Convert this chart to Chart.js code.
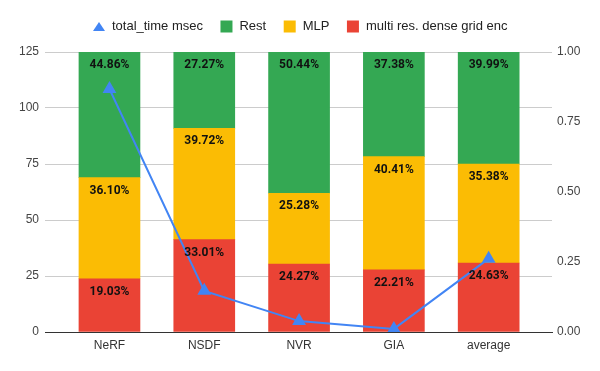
<!DOCTYPE html>
<html>
<head>
<meta charset="utf-8">
<script src="https://cdn.jsdelivr.net/npm/chart.js@4/dist/chart.umd.min.js"></script>
<style>
    html, body { margin: 0; padding: 0; background: #ffffff; }
    #wrap { width: 600px; height: 371px; }
</style>
</head>
<body>
<div id="wrap"><canvas id="chart1"></canvas></div>
<script>
// DATA
var categories = ["NeRF", "NSDF", "NVR", "GIA", "average"];
var gridEnc = [23.79, 41.26, 30.34, 27.76, 30.79];
var mlp = [45.13, 49.65, 31.60, 50.51, 44.23];
var rest = [56.08, 34.09, 63.05, 46.73, 49.99];
var totalTime = [0.868, 0.147, 0.039, 0.011, 0.262];
var leftTicks = [0, 25, 50, 75, 100, 125];
var rightTicks = [0, 0.25, 0.5, 0.75, 1];
var legendOrder = ["total_time msec", "Rest", "MLP", "multi res. dense grid enc"];

function toPoints(values) {
    return values.map(function (v, i) { return { x: i, y: v }; });
}

// small triangle for the legend entry of the line
var legendTriangle = document.createElement('canvas');
legendTriangle.width = 12;
legendTriangle.height = 9;
(function () {
    var c = legendTriangle.getContext('2d');
    c.fillStyle = '#4285f4';
    c.beginPath();
    c.moveTo(6, 0);
    c.lineTo(12, 9);
    c.lineTo(0, 9);
    c.closePath();
    c.fill();
})();

// PERCENT LABELS ON EACH SEGMENT
var segmentLabels = {
    id: 'segmentLabels',
    beforeLayout: function (chart) {
        // leave a little more room under the legend
        var lg = chart.legend;
        if (lg && !lg._padded) {
            var origFit = lg.fit;
            lg.fit = function () {
                origFit.call(this);
                this.height += 9;
            };
            lg._padded = true;
        }
    },
    afterDatasetsDraw: function (chart) {
        var ctx = chart.ctx;
        var sets = chart.data.datasets;
        ctx.save();
        ctx.font = 'bold 12px Roboto';
        ctx.fillStyle = '#111111';
        ctx.textAlign = 'center';
        ctx.textBaseline = 'middle';
        sets.forEach(function (ds, di) {
            if (ds.type !== 'bar') return;
            var meta = chart.getDatasetMeta(di);
            meta.data.forEach(function (bar, i) {
                var sum = 0;
                sets.forEach(function (d) { if (d.type === 'bar') sum += d.data[i].y; });
                var pct = (ds.data[i].y / sum * 100).toFixed(2) + '%';
                ctx.fillText(pct, bar.x, bar.y + 13);
            });
        });
        ctx.restore();
    }
};

var ctxChart1 = document.getElementById('chart1').getContext('2d');
var chart1 = new Chart(ctxChart1, {
    plugins: [segmentLabels],
    data: {
        datasets: [{
            type: 'line',
            label: 'total_time msec',
            data: toPoints(totalTime),
            yAxisID: 'y1',
            borderColor: '#4285f4',
            backgroundColor: '#4285f4',
            borderWidth: 2,
            pointStyle: 'triangle',
            pointRadius: 6,
            tension: 0
        }, {
            type: 'bar',
            label: 'multi res. dense grid enc',
            data: toPoints(gridEnc),
            backgroundColor: '#ea4335',
            pointStyle: 'rect',
            barThickness: 61
        }, {
            type: 'bar',
            label: 'MLP',
            data: toPoints(mlp),
            backgroundColor: '#fbbc04',
            pointStyle: 'rect',
            barThickness: 61
        }, {
            type: 'bar',
            label: 'Rest',
            data: toPoints(rest),
            backgroundColor: '#34a853',
            pointStyle: 'rect',
            barThickness: 61
        }]
    }, options: {
        responsive: true,
        maintainAspectRatio: false,
        animation: false,
        layout: { padding: { top: 3, bottom: 0, left: 0, right: 0 } },
        plugins: {
            tooltip: { enabled: false },
            title: { display: false },
            legend: {
                position: 'top',
                labels: {
                    usePointStyle: true,
                    boxHeight: 12,
                    padding: 17,
                    color: '#222222',
                    font: { family: 'Liberation Sans', size: 13 },
                    generateLabels: function (chart) {
                        var items = Chart.defaults.plugins.legend.labels.generateLabels(chart);
                        items.forEach(function (it) {
                            if (it.text === 'total_time msec') it.pointStyle = legendTriangle;
                        });
                        return items;
                    },
                    sort: function (a, b) {
                        return legendOrder.indexOf(a.text) - legendOrder.indexOf(b.text);
                    }
                }
            }
        }, scales: {
            x: {
                type: 'linear',
                stacked: true,
                offset: false,
                min: -0.68,
                max: 4.668,
                afterBuildTicks: function (scale) {
                    scale.ticks = categories.map(function (c, i) { return { value: i }; });
                },
                afterFit: function (scale) { scale.height = 39; },
                grid: { display: false, drawTicks: false },
                border: { display: true, color: '#333333', width: 1 },
                ticks: {
                    padding: 6,
                    color: '#333333',
                    font: { family: 'Liberation Sans', size: 12 },
                    callback: function (v) { return categories[v]; }
                }
            },
            y: {
                stacked: true,
                position: 'left',
                min: 0,
                max: 125,
                afterBuildTicks: function (scale) {
                    scale.ticks = leftTicks.map(function (v) { return { value: v }; });
                },
                afterFit: function (scale) { scale.width = 45; },
                grid: { color: '#cccccc', drawTicks: false },
                border: { display: false },
                ticks: {
                    padding: 6,
                    color: '#444444',
                    font: { family: 'Liberation Sans', size: 12 }
                }
            },
            y1: {
                position: 'right',
                stacked: false,
                min: 0,
                max: 1,
                afterBuildTicks: function (scale) {
                    scale.ticks = rightTicks.map(function (v) { return { value: v }; });
                },
                afterFit: function (scale) { scale.width = 48; },
                grid: { display: false, drawTicks: false },
                border: { display: false },
                ticks: {
                    padding: 5,
                    color: '#444444',
                    font: { family: 'Liberation Sans', size: 12 },
                    callback: function (v) { return v.toFixed(2); }
                }
            }
        }
    }
});
</script>
</body>
</html>
